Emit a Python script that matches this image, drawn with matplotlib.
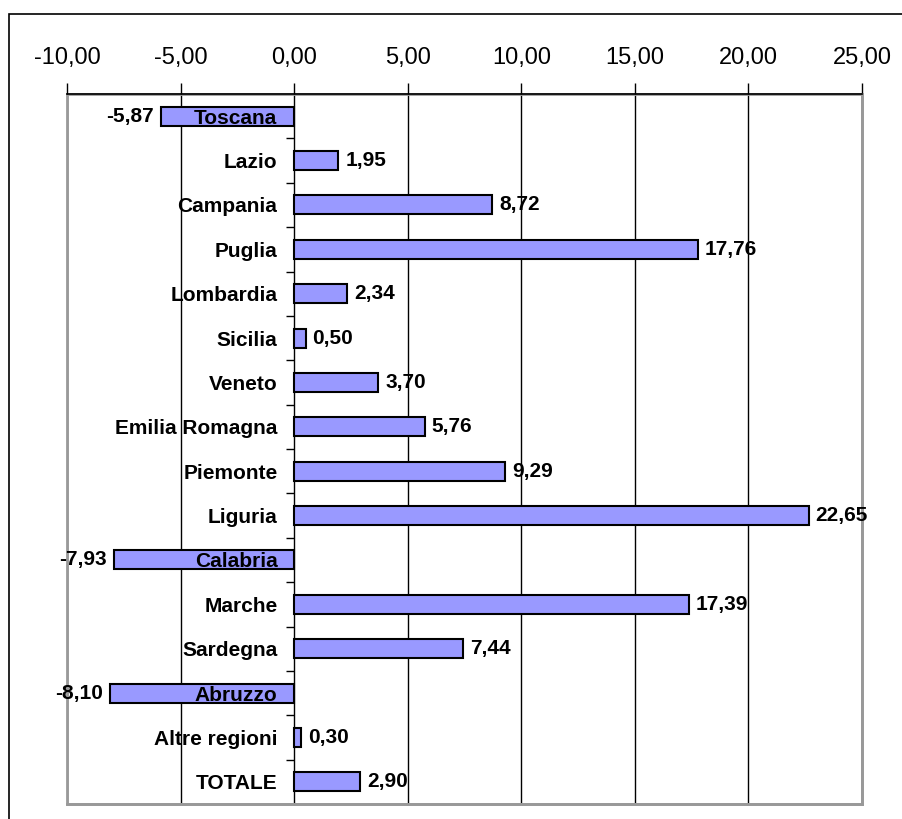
# variazione percentuale per regione - grafico a barre orizzontali

import matplotlib.pyplot as plt
from matplotlib.patches import Rectangle
from matplotlib.ticker import FixedLocator, FuncFormatter

regioni = ['Toscana', 'Lazio', 'Campania', 'Puglia', 'Lombardia', 'Sicilia',
           'Veneto', 'Emilia Romagna', 'Piemonte', 'Liguria', 'Calabria',
           'Marche', 'Sardegna', 'Abruzzo', 'Altre regioni', 'TOTALE']
valori = [-5.87, 1.95, 8.72, 17.76, 2.34, 0.50, 3.70, 5.76, 9.29, 22.65,
          -7.93, 17.39, 7.44, -8.10, 0.30, 2.90]
x_ticks = [-10, -5, 0, 5, 10, 15, 20, 25]

plt.rcParams['font.family'] = ['Liberation Sans', 'DejaVu Sans']

fig = plt.figure(figsize=(9.03, 8.19), dpi=100)
ax = fig.add_axes([0.0742, 0.0183, 0.8804, 0.8669])

# cornice esterna del grafico
fig.add_artist(Rectangle((9 / 903, -0.1), 1.2, 1 - 14 / 819 + 0.1,
                         transform=fig.transFigure, fill=False,
                         edgecolor='black', linewidth=1.2))

pos = list(range(len(regioni)))
ax.barh(pos, valori, height=0.43, color='#9999FF', edgecolor='black',
        linewidth=1.5, zorder=2)

ax.set_xlim(-10, 25)
ax.set_ylim(len(regioni) - 0.5, -0.5)

# asse x in alto, griglia verticale
ax.xaxis.tick_top()
ax.set_xticks(x_ticks)
ax.xaxis.set_major_formatter(FuncFormatter(lambda v, p: f'{v:.2f}'.replace('.', ',')))
ax.tick_params(axis='x', direction='out', length=8, width=1, pad=10,
               labelsize=17, colors='black')
for t in x_ticks:
    ax.axvline(t, color='black', linewidth=1, zorder=1)

# asse y sullo zero, etichette accanto allo zero (sopra le barre)
ax.spines['left'].set_position(('data', 0))
ax.spines['left'].set_color('none')
ax.yaxis.set_zorder(4)
ax.set_yticks(pos)
ax.set_yticklabels(regioni, fontsize=15, fontweight='bold')
ax.tick_params(axis='y', which='major', length=0, pad=12)
ax.yaxis.set_minor_locator(FixedLocator([p + 0.5 for p in pos[:-1]]))
ax.tick_params(axis='y', which='minor', length=6, width=1, direction='out')

for s in ['right', 'bottom']:
    ax.spines[s].set_color('#999999')
    ax.spines[s].set_linewidth(2)
ax.spines['top'].set_linewidth(1.2)
ax.add_patch(Rectangle((0, 0), 1, 1, transform=ax.transAxes, fill=False,
                       edgecolor='#999999', linewidth=2, zorder=1.5, clip_on=False))

# etichette dei valori
for p, v in zip(pos, valori):
    testo = f'{v:.2f}'.replace('.', ',')
    if v < 0:
        ax.text(v - 0.3, p, testo, ha='right', va='center', fontsize=15,
                fontweight='bold', zorder=5)
    else:
        ax.text(v + 0.3, p, testo, ha='left', va='center', fontsize=15,
                fontweight='bold', zorder=5)

fig.savefig('out.png', dpi=100)
